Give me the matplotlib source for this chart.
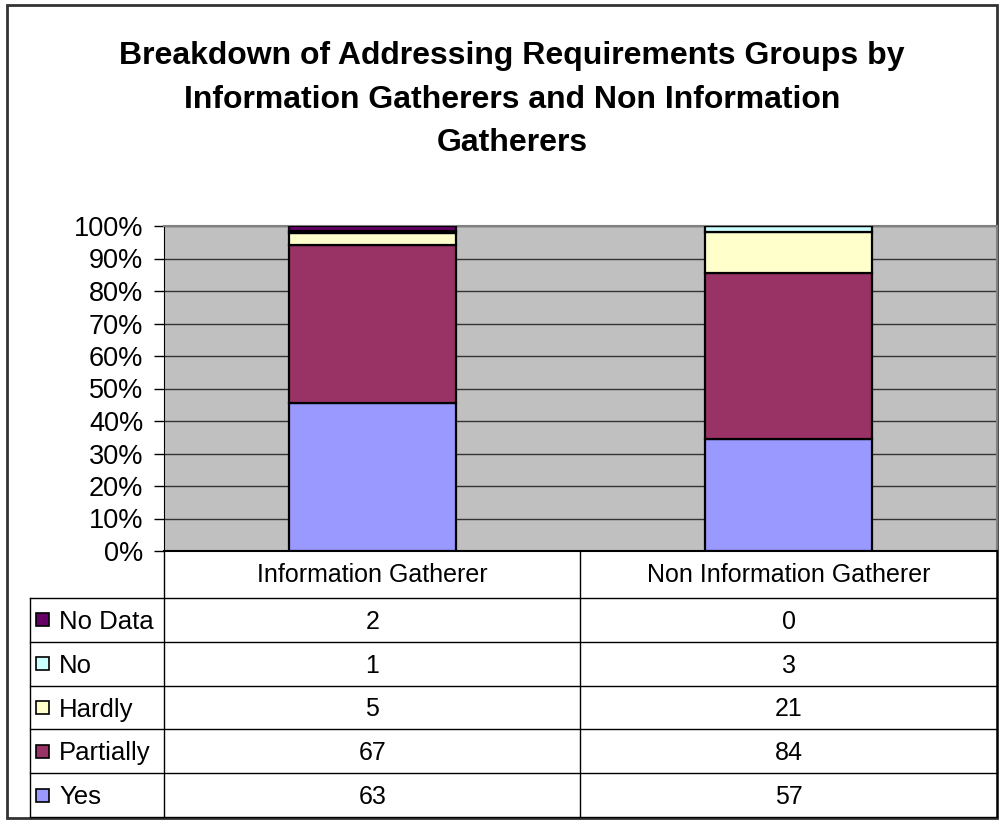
import matplotlib
matplotlib.use("Agg")
import matplotlib.pyplot as plt
from matplotlib.patches import Rectangle

plt.rcParams['font.family'] = ['Liberation Sans', 'DejaVu Sans']

categories = ["Information Gatherer", "Non Information Gatherer"]
series = ["Yes", "Partially", "Hardly", "No", "No Data"]
yes = [63, 57]
partially = [67, 84]
hardly = [5, 21]
no = [1, 3]
no_data = [2, 0]
colors = ["#9999FF", "#993366", "#FFFFCC", "#CCFFFF", "#660066"]
title = ("Breakdown of Addressing Requirements Groups by\n"
         "Information Gatherers and Non Information\nGatherers")


def main():
    W, H = 1002, 834
    fig = plt.figure(figsize=(W / 100, H / 100), dpi=100)
    fig.patch.set_facecolor("white")

    # plot area in pixel terms
    px_l, px_r, px_t, px_b = 164, 997, 226, 551
    ax = fig.add_axes([px_l / W, 1 - px_b / H, (px_r - px_l) / W, (px_b - px_t) / H])
    ax.set_facecolor("#C0C0C0")

    data = [yes, partially, hardly, no, no_data]
    totals = [sum(col) for col in zip(*data)]
    x = range(len(categories))
    bottom = [0.0] * len(categories)
    for vals, c in zip(data, colors):
        frac = [v / t for v, t in zip(vals, totals)]
        ax.bar(x, frac, width=0.4, bottom=bottom, color=c,
               edgecolor="black", linewidth=1.6, zorder=3)
        bottom = [b + f for b, f in zip(bottom, frac)]

    ax.set_xlim(-0.5, len(categories) - 0.5)
    ax.set_ylim(0, 1)
    ax.set_yticks([i / 10 for i in range(11)])
    ax.set_yticklabels([f"{i * 10}%" for i in range(11)], fontsize=19.5)
    ax.tick_params(axis="y", length=7, width=1, pad=8, colors="black")
    ax.set_xticks([])
    ax.yaxis.grid(True, color="#333333", linewidth=1, zorder=1)
    for s in ["top", "right"]:
        ax.spines[s].set_color("#808080")
        ax.spines[s].set_linewidth(1.5)
    ax.spines["left"].set_color("black")
    ax.spines["bottom"].set_color("black")
    ax.spines["bottom"].set_linewidth(1.5)

    # overlay in pixel coordinates for the border, title and data table
    ov = fig.add_axes([0, 0, 1, 1], zorder=-1)
    ov.set_xlim(0, W)
    ov.set_ylim(H, 0)
    ov.axis("off")
    ov.add_patch(Rectangle((7, 5), 990, 813, fill=False,
                           edgecolor="#333333", linewidth=2))
    fig.text(512 / W, 1 - 99.5 / H, title, ha="center", va="center",
             fontsize=23, fontweight="bold", linespacing=1.58)

    ov2 = fig.add_axes([0, 0, 1, 1], zorder=5)
    ov2.set_xlim(0, W)
    ov2.set_ylim(H, 0)
    ov2.axis("off")
    ov2.patch.set_alpha(0)

    col_x = [30, 164, 580.5, 997]
    head_top, head_bot, tab_bot = 551, 598, 817
    lc = "black"
    # header row
    for xv in col_x[1:]:
        ov2.plot([xv, xv], [head_top, tab_bot], color=lc, lw=1)
    ov2.plot([col_x[0], col_x[0]], [head_bot, tab_bot], color=lc, lw=1)
    for j, cat in enumerate(categories):
        ov2.text((col_x[j + 1] + col_x[j + 2]) / 2, (head_top + head_bot) / 2 + 1,
                 cat, ha="center", va="center", fontsize=18)
    rows = list(zip(series, data, colors))[::-1]
    rh = (tab_bot - head_bot) / len(rows)
    for i in range(len(rows) + 1):
        yv = head_bot + i * rh
        ov2.plot([col_x[0], col_x[-1]], [yv, yv], color=lc, lw=1)
    for i, (name, vals, c) in enumerate(rows):
        yc = head_bot + (i + 0.5) * rh
        ov2.add_patch(Rectangle((36, yc - 6.5), 13, 13, facecolor=c,
                                edgecolor="black", linewidth=1.2))
        ov2.text(59, yc + 2, name, ha="left", va="center", fontsize=18.5)
        for j, v in enumerate(vals):
            ov2.text((col_x[j + 1] + col_x[j + 2]) / 2, yc + 2, str(v),
                     ha="center", va="center", fontsize=18)

    fig.savefig("out.png", dpi=100)


if __name__ == "__main__":
    main()
